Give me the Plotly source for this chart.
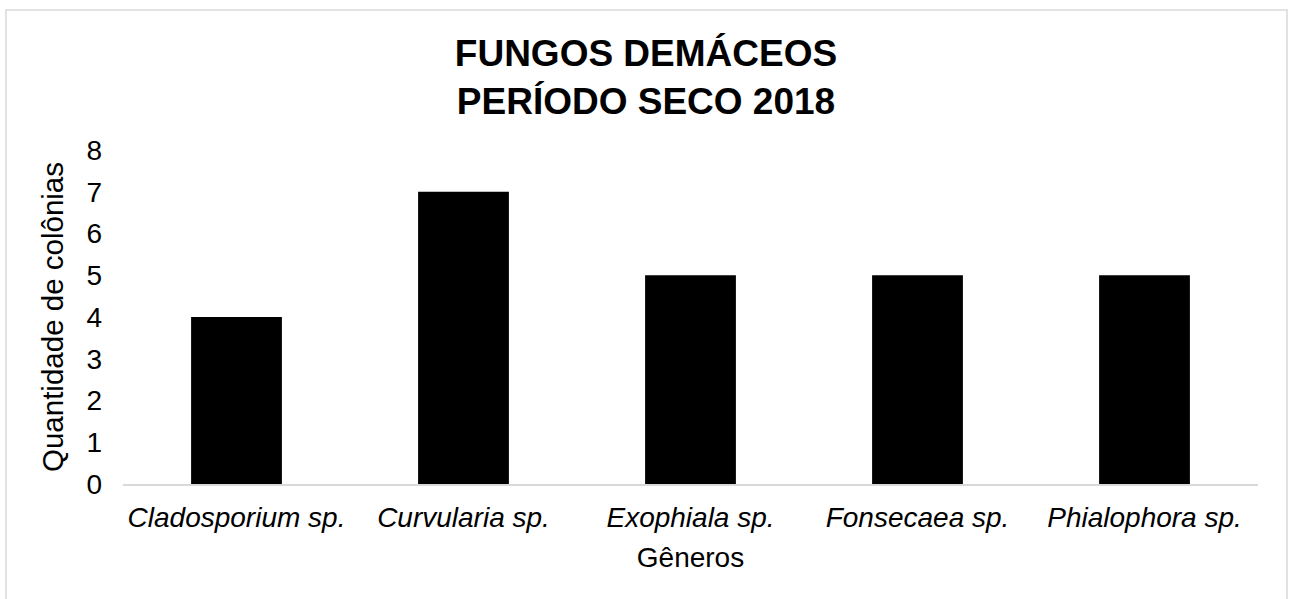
import plotly.graph_objects as go

categories = ["Cladosporium sp.", "Curvularia sp.", "Exophiala sp.", "Fonsecaea sp.", "Phialophora sp."]
values = [4, 7, 5, 5, 5]
y_ticks = [0, 1, 2, 3, 4, 5, 6, 7, 8]

FONT = "Liberation Sans, Arial, sans-serif"

fig = go.Figure()
fig.add_trace(go.Bar(
    x=categories, y=values,
    marker=dict(color="#000000", line=dict(width=0)),
    width=0.4,
))

W, H = 1292, 599
L, R, T, B = 123, 34, 150, 115

fig.update_layout(
    width=W, height=H,
    margin=dict(l=L, r=R, t=T, b=B, pad=0),
    paper_bgcolor="white", plot_bgcolor="white",
    font=dict(family=FONT, size=28, color="#000000"),
    showlegend=False,
    title=dict(
        text="<b>FUNGOS DEMÁCEOS<br>PERÍODO SECO 2018</b>",
        font=dict(family=FONT, size=37, color="#000000"),
        x=0.5, xref="container", xanchor="center",
        y=1 - 66 / H, yref="container", yanchor="middle",
    ),
    xaxis=dict(
        showgrid=False, zeroline=False,
        showline=True, linecolor="#d9d9d9", linewidth=2,
        ticks="", tickfont=dict(family=FONT, size=28, style="italic", color="#000000"),
        ticklabelstandoff=7,
        title=dict(text="Gêneros", font=dict(family=FONT, size=28, color="#000000"), standoff=16),
        automargin=False,
    ),
    yaxis=dict(
        range=[0, 8], tickvals=y_ticks,
        showgrid=False, zeroline=False, showline=False,
        ticks="", tickfont=dict(family=FONT, size=28, color="#000000"),
        ticklabelstandoff=20,
        title=dict(text="Quantidade de colônias", font=dict(family=FONT, size=29.5, color="#000000"), standoff=14),
        automargin=False,
    ),
    shapes=[dict(
        type="rect", xref="paper", yref="paper",
        x0=(6 - L) / (W - L - R), x1=(1287 - L) / (W - L - R),
        y0=(H - B - 620) / (H - T - B), y1=(H - B - 10) / (H - T - B),
        line=dict(color="#d9d9d9", width=1.5), fillcolor="rgba(0,0,0,0)",
        layer="below",
    )],
)

fig.write_html("out.html")
